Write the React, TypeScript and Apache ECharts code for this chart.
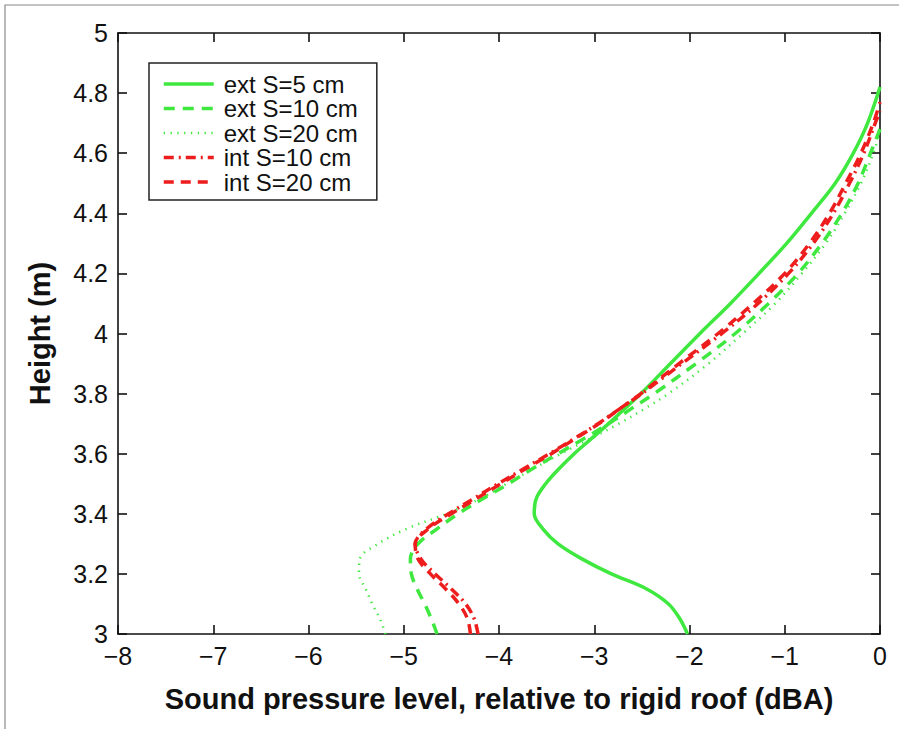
import React, { useEffect, useRef } from 'react';
import * as echarts from 'echarts';

// ext S=5 cm (solid green)
const ext5Height = [3.0, 3.05, 3.1, 3.15, 3.2, 3.25, 3.3, 3.35, 3.4, 3.45, 3.5, 3.55, 3.6, 3.65, 3.7, 3.8, 3.9, 4.0, 4.1, 4.2, 4.3, 4.4, 4.5, 4.6, 4.7, 4.82];
const ext5Level = [-2.02, -2.10, -2.22, -2.45, -2.82, -3.13, -3.38, -3.54, -3.63, -3.61, -3.51, -3.37, -3.21, -3.03, -2.85, -2.51, -2.20, -1.89, -1.57, -1.27, -0.98, -0.72, -0.47, -0.28, -0.13, 0];

// ext S=10 cm (dashed green)
const ext10Height = [3.0, 3.05, 3.1, 3.15, 3.2, 3.25, 3.3, 3.35, 3.4, 3.45, 3.5, 3.55, 3.6, 3.65, 3.7, 3.75, 3.8, 3.9, 4.0, 4.1, 4.2, 4.3, 4.4, 4.5, 4.6, 4.68];
const ext10Level = [-4.65, -4.71, -4.78, -4.86, -4.92, -4.93, -4.85, -4.65, -4.43, -4.17, -3.90, -3.65, -3.38, -3.11, -2.85, -2.61, -2.37, -1.93, -1.52, -1.17, -0.86, -0.61, -0.40, -0.23, -0.10, 0];

// ext S=20 cm (dotted green)
const ext20Height = [3.0, 3.05, 3.1, 3.15, 3.2, 3.25, 3.3, 3.35, 3.4, 3.45, 3.5, 3.55, 3.6, 3.65, 3.7, 3.75, 3.8, 3.9, 4.0, 4.1, 4.2, 4.3, 4.4, 4.5, 4.6, 4.67];
const ext20Level = [-5.19, -5.25, -5.33, -5.40, -5.47, -5.46, -5.27, -4.97, -4.55, -4.20, -3.92, -3.64, -3.35, -3.04, -2.74, -2.47, -2.22, -1.80, -1.44, -1.10, -0.82, -0.57, -0.37, -0.20, -0.07, 0];

// int S=10 cm (dash-dot red)
const int10Height = [3.0, 3.05, 3.1, 3.15, 3.2, 3.25, 3.3, 3.35, 3.4, 3.45, 3.5, 3.55, 3.6, 3.65, 3.7, 3.75, 3.8, 3.85, 3.9, 4.0, 4.1, 4.2, 4.3, 4.4, 4.5, 4.6, 4.7, 4.74];
const int10Level = [-4.22, -4.26, -4.35, -4.50, -4.67, -4.82, -4.88, -4.76, -4.53, -4.27, -4.01, -3.74, -3.47, -3.21, -2.96, -2.73, -2.50, -2.29, -2.08, -1.66, -1.28, -0.96, -0.70, -0.49, -0.32, -0.17, -0.05, 0];

// int S=20 cm (dashed red)
const int20Height = [3.0, 3.05, 3.1, 3.15, 3.2, 3.25, 3.3, 3.35, 3.4, 3.45, 3.5, 3.55, 3.6, 3.65, 3.7, 3.75, 3.8, 3.85, 3.9, 4.0, 4.1, 4.2, 4.3, 4.4, 4.5, 4.6, 4.7, 4.77];
const int20Level = [-4.30, -4.33, -4.42, -4.56, -4.72, -4.85, -4.88, -4.74, -4.50, -4.24, -3.98, -3.72, -3.45, -3.20, -2.95, -2.73, -2.51, -2.31, -2.11, -1.70, -1.33, -1.00, -0.74, -0.53, -0.36, -0.20, -0.07, 0];

const seriesNames = ['ext S=5 cm', 'ext S=10 cm', 'ext S=20 cm', 'int S=10 cm', 'int S=20 cm'];

const GREEN = '#3fe83f';
const RED = '#ee1d1d';
const FONT = '"Liberation Sans", Arial, Helvetica, sans-serif';

const pairs = (lv: number[], h: number[]) => h.map((y, i) => [lv[i], y]);

const fmtX = (v: number) => (v < 0 ? '\u2212' + Math.abs(v) : String(v));
const fmtY = (v: number) => String(+v.toFixed(1));

export default function App() {
  const ref = useRef<HTMLDivElement>(null);
  useEffect(() => {
    if (!ref.current) return;
    const chart = echarts.init(ref.current, undefined, { renderer: 'svg' });
    const mkLine = (name: string, data: number[][], color: string, width: number, type: any) => ({
      name,
      type: 'line',
      data,
      symbol: 'none',
      showSymbol: false,
      smooth: 0.35,
      clip: true,
      lineStyle: { color, width, type, cap: 'butt' },
      itemStyle: { color },
    });
    const axisCommon = {
      axisLine: { show: true, onZero: false, lineStyle: { color: '#111', width: 1.6 } },
      axisTick: { show: true, inside: true, length: 9, lineStyle: { color: '#111', width: 1.6 } },
      splitLine: { show: false },
    };
    chart.setOption({
      animation: false,
      backgroundColor: '#fff',
      grid: { left: 118, top: 33, right: 19, bottom: 95, containLabel: false },
      graphic: [
        {
          type: 'rect',
          shape: { x: 5, y: 5, width: 900, height: 740 },
          style: { fill: 'none', stroke: '#8a8a8a', lineWidth: 1.2 },
          silent: true,
          z: -10,
        },
      ],
      legend: {
        orient: 'vertical',
        left: 149,
        top: 63,
        data: seriesNames,
        itemWidth: 50,
        itemHeight: 14,
        itemGap: 0.5,
        padding: [9, 19, 6, 13],
        borderColor: '#222',
        borderWidth: 1.5,
        backgroundColor: '#fff',
        itemStyle: { color: 'rgba(0,0,0,0)', borderWidth: 0, opacity: 0 },
        lineStyle: { width: 'inherit', type: 'inherit', color: 'inherit', cap: 'butt' },
        textStyle: { fontFamily: FONT, fontSize: 24, color: '#111', lineHeight: 23, padding: [0, 0, 0, 5] },
      },
      xAxis: [
        {
          type: 'value',
          min: -8,
          max: 0,
          interval: 1,
          position: 'bottom',
          name: 'Sound pressure level, relative to rigid roof (dBA)',
          nameLocation: 'middle',
          nameGap: 50,
          nameTextStyle: { fontFamily: FONT, fontSize: 29, fontWeight: 'bold', color: '#111' },
          axisLabel: { formatter: fmtX, fontFamily: FONT, fontSize: 25, color: '#111', margin: 9 },
          ...axisCommon,
        },
        {
          type: 'value',
          min: -8,
          max: 0,
          interval: 1,
          position: 'top',
          axisLabel: { show: false },
          ...axisCommon,
        },
      ],
      yAxis: [
        {
          type: 'value',
          min: 3,
          max: 5,
          interval: 0.2,
          position: 'left',
          name: 'Height (m)',
          nameLocation: 'middle',
          nameGap: 64,
          nameTextStyle: { fontFamily: FONT, fontSize: 29, fontWeight: 'bold', color: '#111' },
          axisLabel: { formatter: fmtY, fontFamily: FONT, fontSize: 25, color: '#111', margin: 10 },
          ...axisCommon,
        },
        {
          type: 'value',
          min: 3,
          max: 5,
          interval: 0.2,
          position: 'right',
          axisLabel: { show: false },
          ...axisCommon,
        },
      ],
      series: [
        mkLine(seriesNames[0], pairs(ext5Level, ext5Height), GREEN, 3.5, 'solid'),
        mkLine(seriesNames[1], pairs(ext10Level, ext10Height), GREEN, 3.5, [11, 8]),
        mkLine(seriesNames[2], pairs(ext20Level, ext20Height), GREEN, 2.5, [1.3, 5.5]),
        mkLine(seriesNames[3], pairs(int10Level, int10Height), RED, 3.5, [10, 5, 2, 5]),
        mkLine(seriesNames[4], pairs(int20Level, int20Height), RED, 3.5, [10, 7]),
      ],
    });
    return () => chart.dispose();
  }, []);
  return <div ref={ref} style={{ position: 'fixed', left: 0, top: 0, width: 899, height: 729 }} />;
}
